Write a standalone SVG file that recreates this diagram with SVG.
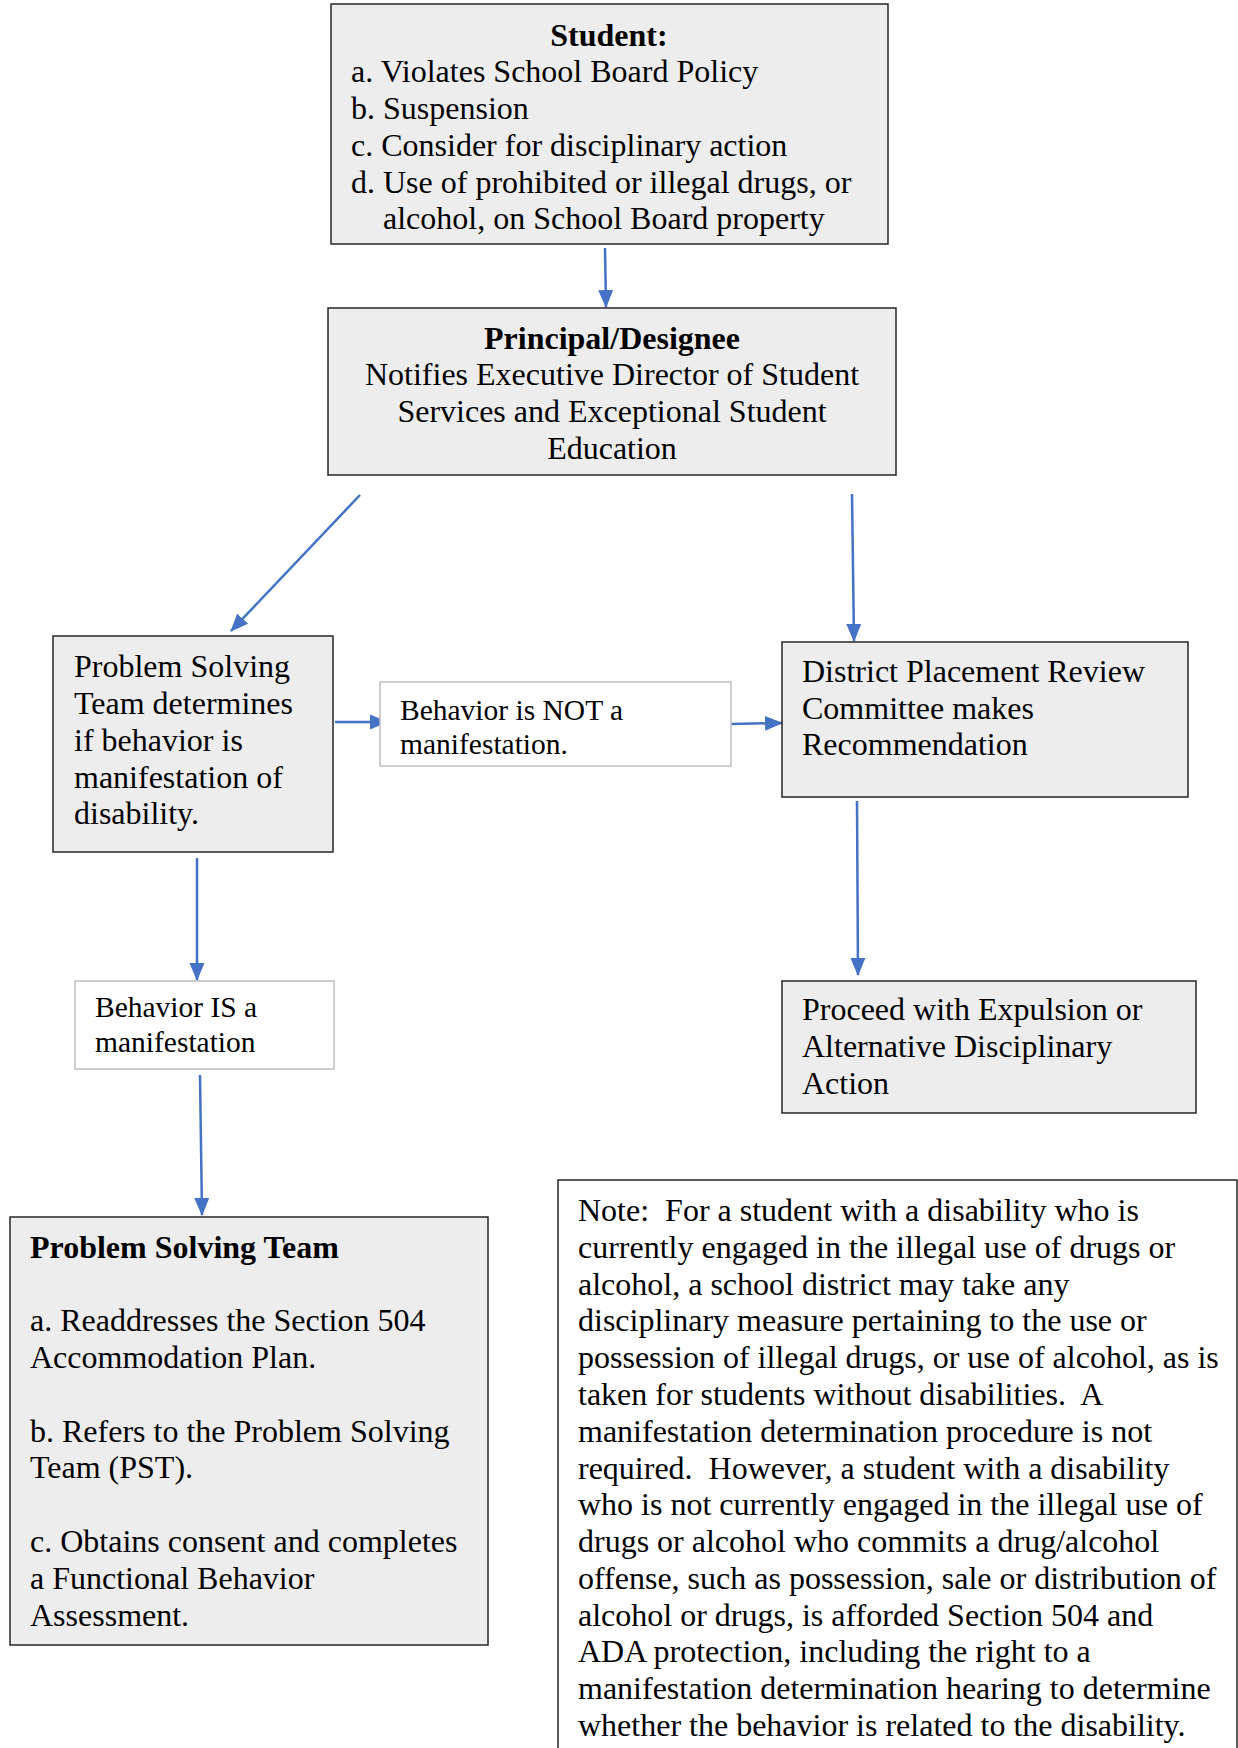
<svg xmlns="http://www.w3.org/2000/svg" width="1238" height="1748" viewBox="0 0 1238 1748">
<style>
  .box { fill: #ededed; stroke: #262626; stroke-width: 1.5; }
  .lbox { fill: #ffffff; stroke: #bfbfbf; stroke-width: 1.5; }
  .note { fill: #ffffff; stroke: #262626; stroke-width: 1.5; }
  text { font-family: "Liberation Serif", "Times New Roman", serif; font-size: 32px; fill: #000; }
  .b { font-weight: bold; }
  .s { font-size: 29.5px; }
  .c { text-anchor: middle; }
  .conn { stroke: #4472c4; stroke-width: 2.5; fill: none; marker-end: url(#ah); }
</style>
<defs>
  <marker id="ah" markerUnits="userSpaceOnUse" markerWidth="18" markerHeight="18" viewBox="0 0 18 18" refX="17" refY="9" orient="auto">
    <path d="M0,1.5 L18,9 L0,16.5 Z" fill="#4472c4"/>
  </marker>
</defs>
<rect width="1238" height="1748" fill="#ffffff"/>

<g id="connectors">
  <line class="conn" x1="605" y1="248" x2="606" y2="307"/>
  <line class="conn" x1="360" y1="495" x2="231" y2="631"/>
  <line class="conn" x1="852" y1="494" x2="854" y2="641"/>
  <line class="conn" x1="335" y1="722" x2="387" y2="722"/>
  <line class="conn" x1="731" y1="724" x2="782" y2="723"/>
  <line class="conn" x1="857" y1="801" x2="858" y2="975"/>
  <line class="conn" x1="197" y1="858" x2="197" y2="980"/>
  <line class="conn" x1="200" y1="1075" x2="202" y2="1215"/>
</g>

<g id="student">
  <rect class="box" x="331" y="4" width="557" height="240"/>
  <text class="b c" x="609" y="46">Student:</text>
  <text x="351" y="82">a. Violates School Board Policy</text>
  <text x="351" y="119">b. Suspension</text>
  <text x="351" y="156">c. Consider for disciplinary action</text>
  <text x="351" y="193">d. Use of prohibited or illegal drugs, or</text>
  <text x="383" y="229">alcohol, on School Board property</text>
</g>

<g id="principal">
  <rect class="box" x="328" y="308" width="568" height="167"/>
  <text class="b c" x="612" y="349">Principal/Designee</text>
  <text class="c" x="612" y="385">Notifies Executive Director of Student</text>
  <text class="c" x="612" y="422">Services and Exceptional Student</text>
  <text class="c" x="612" y="459">Education</text>
</g>

<g id="pst-determines">
  <rect class="box" x="53" y="636" width="280" height="216"/>
  <text x="74" y="677">Problem Solving</text>
  <text x="74" y="714">Team determines</text>
  <text x="74" y="751">if behavior is</text>
  <text x="74" y="788">manifestation of</text>
  <text x="74" y="824">disability.</text>
</g>

<g id="not-manifestation">
  <rect class="lbox" x="380" y="682" width="351" height="84"/>
  <text class="s" x="400" y="720">Behavior is NOT a</text>
  <text class="s" x="400" y="754">manifestation.</text>
</g>

<g id="district">
  <rect class="box" x="782" y="642" width="406" height="155"/>
  <text x="802" y="682">District Placement Review</text>
  <text x="802" y="719">Committee makes</text>
  <text x="802" y="755">Recommendation</text>
</g>

<g id="proceed">
  <rect class="box" x="782" y="981" width="414" height="132"/>
  <text x="802" y="1020">Proceed with Expulsion or</text>
  <text x="802" y="1057">Alternative Disciplinary</text>
  <text x="802" y="1094">Action</text>
</g>

<g id="is-manifestation">
  <rect class="lbox" x="75" y="981" width="259" height="88"/>
  <text class="s" x="95" y="1017">Behavior IS a</text>
  <text class="s" x="95" y="1052">manifestation</text>
</g>

<g id="pst-actions">
  <rect class="box" x="10" y="1217" width="478" height="428"/>
  <text class="b" x="30" y="1258">Problem Solving Team</text>
  <text x="30" y="1331">a. Readdresses the Section 504</text>
  <text x="30" y="1368">Accommodation Plan.</text>
  <text x="30" y="1442">b. Refers to the Problem Solving</text>
  <text x="30" y="1478">Team (PST).</text>
  <text x="30" y="1552">c. Obtains consent and completes</text>
  <text x="30" y="1589">a Functional Behavior</text>
  <text x="30" y="1626">Assessment.</text>
</g>

<g id="note">
  <rect class="note" x="558" y="1180" width="679" height="580"/>
  <text x="578" y="1221" xml:space="preserve">Note:  For a student with a disability who is</text>
  <text x="578" y="1258">currently engaged in the illegal use of drugs or</text>
  <text x="578" y="1295">alcohol, a school district may take any</text>
  <text x="578" y="1331">disciplinary measure pertaining to the use or</text>
  <text x="578" y="1368">possession of illegal drugs, or use of alcohol, as is</text>
  <text x="578" y="1405" xml:space="preserve">taken for students without disabilities.  A</text>
  <text x="578" y="1442">manifestation determination procedure is not</text>
  <text x="578" y="1479" xml:space="preserve">required.  However, a student with a disability</text>
  <text x="578" y="1515">who is not currently engaged in the illegal use of</text>
  <text x="578" y="1552">drugs or alcohol who commits a drug/alcohol</text>
  <text x="578" y="1589">offense, such as possession, sale or distribution of</text>
  <text x="578" y="1626">alcohol or drugs, is afforded Section 504 and</text>
  <text x="578" y="1662">ADA protection, including the right to a</text>
  <text x="578" y="1699">manifestation determination hearing to determine</text>
  <text x="578" y="1736">whether the behavior is related to the disability.</text>
</g>
</svg>
